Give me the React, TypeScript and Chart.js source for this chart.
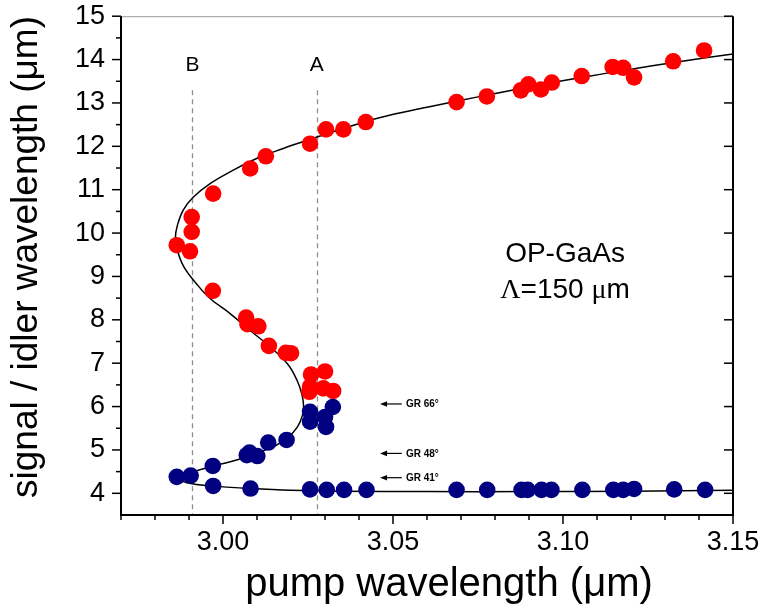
import React, { useEffect, useRef } from 'react';
import { Chart, registerables } from 'chart.js';

Chart.register(...registerables);

// ---- data ----
const redX = [
  2.9864, 2.9903, 2.9908, 2.9908, 2.9971, 3.0080, 3.0126, 3.0256, 3.0303, 3.0354, 3.0420,
  3.0687, 3.0776, 3.0876, 3.0898, 3.0935, 3.0967, 3.1055, 3.1146, 3.1177, 3.1209, 3.1324, 3.1415,
  2.9970, 3.0068, 3.0072, 3.0104, 3.0135, 3.0185, 3.0200, 3.0259, 3.0300, 3.0256, 3.0254, 3.0295, 3.0324,
];
const redY = [
  9.72, 9.58, 10.03, 10.37, 10.91, 11.49, 11.77, 12.06, 12.39, 12.39, 12.56,
  13.02, 13.15, 13.29, 13.43, 13.31, 13.47, 13.62, 13.83, 13.81, 13.59, 13.96, 14.21,
  8.67, 8.05, 7.90, 7.85, 7.40, 7.24, 7.23, 6.74, 6.81, 6.46, 6.34, 6.42, 6.36,
];
const blueX = [
  2.9864, 2.9905, 2.9970, 3.0070, 3.0078, 3.0101, 3.0133, 3.0187,
  3.0256, 3.0256, 3.0323, 3.0303, 3.0300,
  2.9971, 3.0081, 3.0256, 3.0305, 3.0356, 3.0422, 3.0687, 3.0777, 3.0878, 3.0896, 3.0937,
  3.0966, 3.1057, 3.1148, 3.1177, 3.1209, 3.1327, 3.1418,
];
const blueY = [
  4.38, 4.41, 4.63, 4.88, 4.94, 4.86, 5.17, 5.23,
  5.88, 5.65, 5.99, 5.53, 5.76,
  4.17, 4.11, 4.09, 4.08, 4.08, 4.08, 4.08, 4.08, 4.08, 4.08, 4.08,
  4.08, 4.08, 4.08, 4.08, 4.10, 4.09, 4.08,
];
const curveX = [
  3.150, 3.120, 3.090, 3.060, 3.035, 3.020, 3.008, 2.998, 2.991, 2.9876,
  2.9890, 2.9915, 2.9982, 3.0050, 3.0105, 3.0150, 3.0190, 3.0218, 3.0233, 3.0237,
  3.0232, 3.0218, 3.0190, 3.0138, 3.0079, 3.0020, 2.9962, 2.9920, 2.9885, 2.9866,
  2.9860, 2.9866, 2.9883, 2.9913, 2.9962, 3.0030, 3.0099, 3.0177, 3.0256, 3.0350,
  3.0460, 3.0600, 3.0750, 3.0900, 3.1050, 3.1200, 3.1350, 3.1500,
];
const curveY = [
  4.07, 4.05, 4.04, 4.04, 4.05, 4.07, 4.11, 4.16, 4.22, 4.30,
  4.40, 4.50, 4.65, 4.79, 4.95, 5.08, 5.28, 5.52, 5.78, 6.02,
  6.28, 6.60, 6.98, 7.38, 7.76, 8.15, 8.49, 8.85, 9.22, 9.60,
  9.90, 10.18, 10.53, 10.83, 11.14, 11.45, 11.72, 11.95, 12.16, 12.40,
  12.66, 12.90, 13.14, 13.37, 13.58, 13.78, 13.96, 14.13,
];

const xMin = 2.97;
const xMax = 3.15;
const yMin = 3.5;
const yMax = 15;

const xTitle = 'pump wavelength (μm)';
const yTitle = 'signal / idler wavelength (μm)';

const guideX = [2.991, 3.0276];
const guideLabels = ['B', 'A'];
const guideTop = 13.29;
const guideLabelY = 13.87;

const grLabels = ['GR 66°', 'GR 48°', 'GR 41°'];
const grY = [6.06, 4.92, 4.36];
const grTipX = 3.0462;
const grTailX = 3.0526;
const grTextX = 3.0538;

const insetTitle = 'OP-GaAs';
const insetX = 3.1006;
const insetY1 = 9.5;
const insetY2 = 8.68;

const SANS = "'Liberation Sans', Arial, Helvetica, sans-serif";
const SERIF = "'Liberation Serif', 'Times New Roman', serif";

const decor = {
  id: 'decor',
  beforeDatasetsDraw(chart: any) {
    const { ctx, scales } = chart;
    const x = scales.x;
    const y = scales.y;
    ctx.save();
    ctx.strokeStyle = '#8f8f8f';
    ctx.lineWidth = 1.3;
    ctx.setLineDash([5, 4]);
    guideX.forEach((v) => {
      const px = Math.round(x.getPixelForValue(v)) + 0.5;
      ctx.beginPath();
      ctx.moveTo(px, y.getPixelForValue(guideTop));
      ctx.lineTo(px, y.getPixelForValue(yMin));
      ctx.stroke();
    });
    ctx.restore();
  },
  afterDraw(chart: any) {
    const { ctx, chartArea, scales } = chart;
    const { left, right, top, bottom } = chartArea;
    const x = scales.x;
    const y = scales.y;
    const line = (x1: number, y1: number, x2: number, y2: number) => {
      ctx.beginPath();
      ctx.moveTo(x1, y1);
      ctx.lineTo(x2, y2);
      ctx.stroke();
    };
    ctx.save();
    // frame
    ctx.strokeStyle = '#9a9a9a';
    ctx.lineWidth = 1;
    line(left, top + 0.5, right, top + 0.5);
    ctx.strokeStyle = '#000';
    ctx.lineWidth = 2;
    line(left, top, left, bottom + 1);
    line(left - 1, bottom, right + 1, bottom);
    line(right, top, right, bottom + 1);
    // ticks
    ctx.lineWidth = 1.5;
    x.ticks.forEach((t: any) => {
      const px = x.getPixelForValue(t.value);
      const major = Math.round(t.value * 100) % 5 === 0;
      line(px, bottom, px, bottom + (major ? 9 : 5));
    });
    y.ticks.forEach((t: any) => {
      const py = y.getPixelForValue(t.value);
      const major = Math.abs(t.value - Math.round(t.value)) < 1e-6;
      if (t.value <= yMin + 1e-6) return;
      line(left - (major ? 9 : 5), py, left, py);
      if (major) line(right - 9, py, right, py);
    });
    ctx.fillStyle = '#000';
    // axis titles
    ctx.textAlign = 'center';
    ctx.textBaseline = 'middle';
    ctx.font = `40px ${SANS}`;
    ctx.fillText(xTitle, 449, 585);
    ctx.save();
    ctx.translate(27, 257);
    ctx.rotate(-Math.PI / 2);
    ctx.font = `37px ${SANS}`;
    ctx.fillText(yTitle, 0, 0);
    ctx.restore();
    // guide labels
    ctx.font = `21px ${SANS}`;
    guideX.forEach((v, i) => {
      ctx.fillText(guideLabels[i], x.getPixelForValue(v), y.getPixelForValue(guideLabelY));
    });
    // GR arrows
    ctx.lineWidth = 1.2;
    grLabels.forEach((lab, i) => {
      const py = y.getPixelForValue(grY[i]);
      const tip = x.getPixelForValue(grTipX);
      const tail = x.getPixelForValue(grTailX);
      line(tip + 4, py, tail, py);
      ctx.beginPath();
      ctx.moveTo(tip, py);
      ctx.lineTo(tip + 7, py - 2.8);
      ctx.lineTo(tip + 7, py + 2.8);
      ctx.closePath();
      ctx.fill();
      ctx.font = `bold 10px ${SANS}`;
      ctx.textAlign = 'left';
      ctx.textBaseline = 'middle';
      ctx.fillText(lab, x.getPixelForValue(grTextX), py + 0.5);
    });
    // inset text
    const cx = x.getPixelForValue(insetX);
    ctx.font = `28px ${SANS}`;
    ctx.textAlign = 'center';
    ctx.textBaseline = 'middle';
    ctx.fillText(insetTitle, cx, y.getPixelForValue(insetY1));
    const segs = [
      { t: 'Λ', f: `28px ${SERIF}` },
      { t: '=150 ', f: `28px ${SANS}` },
      { t: 'μ', f: `28px ${SERIF}` },
      { t: 'm', f: `28px ${SANS}` },
    ];
    let total = 0;
    segs.forEach((s) => {
      ctx.font = s.f;
      total += ctx.measureText(s.t).width;
    });
    let px = cx - total / 2;
    const py2 = y.getPixelForValue(insetY2);
    ctx.textAlign = 'left';
    segs.forEach((s) => {
      ctx.font = s.f;
      ctx.fillText(s.t, px, py2);
      px += ctx.measureText(s.t).width;
    });
    ctx.restore();
  },
};

export default function App() {
  const ref = useRef<HTMLCanvasElement>(null);
  useEffect(() => {
    const canvas = ref.current;
    if (!canvas) return;
    const chart = new Chart(canvas, {
      type: 'scatter',
      data: {
        datasets: [
          {
            label: 'idler',
            data: blueX.map((v, i) => ({ x: v, y: blueY[i] })),
            backgroundColor: '#000080',
            borderWidth: 0,
            pointRadius: 8.3,
            pointBorderWidth: 0,
            showLine: false,
            order: 1,
          },
          {
            label: 'signal',
            data: redX.map((v, i) => ({ x: v, y: redY[i] })),
            backgroundColor: '#ff0000',
            borderWidth: 0,
            pointRadius: 8.3,
            pointBorderWidth: 0,
            showLine: false,
            order: 1,
          },
          {
            label: 'theory',
            data: curveX.map((v, i) => ({ x: v, y: curveY[i] })),
            borderColor: '#000',
            borderWidth: 1.5,
            pointRadius: 0,
            showLine: true,
            tension: 0.4,
            order: 2,
          } as any,
        ],
      },
      options: {
        responsive: false,
        animation: false,
        devicePixelRatio: 1,
        events: [],
        layout: { padding: { top: 16, right: 30, bottom: 0, left: 0 } },
        plugins: { legend: { display: false }, tooltip: { enabled: false } },
        scales: {
          x: {
            type: 'linear',
            min: xMin,
            max: xMax,
            afterFit: (s: any) => {
              s.height = 96;
            },
            grid: { display: true, drawOnChartArea: false, drawTicks: true, tickLength: 11, tickColor: 'rgba(0,0,0,0)' },
            border: { display: false },
            ticks: {
              stepSize: 0.01,
              autoSkip: false,
              maxRotation: 0,
              padding: 0,
              color: '#000',
              font: { family: SANS, size: 27 },
              callback: (v: any) => (Math.round(Number(v) * 100) % 5 === 0 ? Number(v).toFixed(2) : ''),
            },
            title: { display: false, text: xTitle },
          },
          y: {
            type: 'linear',
            min: yMin,
            max: yMax,
            afterFit: (s: any) => {
              s.width = 121;
            },
            grid: { display: true, drawOnChartArea: false, drawTicks: true, tickLength: 16, tickColor: 'rgba(0,0,0,0)' },
            border: { display: false },
            ticks: {
              stepSize: 0.5,
              autoSkip: false,
              padding: 0,
              color: '#000',
              font: { family: SANS, size: 27 },
              callback: (v: any) => (Math.abs(Number(v) - Math.round(Number(v))) < 1e-6 ? String(Math.round(Number(v))) : ''),
            },
            title: { display: false, text: yTitle },
          },
        },
      },
      plugins: [decor],
    } as any);
    return () => chart.destroy();
  }, []);
  return (
    <div style={{ position: 'absolute', left: 0, top: 0, width: 763, height: 611 }}>
      <canvas ref={ref} width={763} height={611} style={{ display: 'block' }} />
    </div>
  );
}
